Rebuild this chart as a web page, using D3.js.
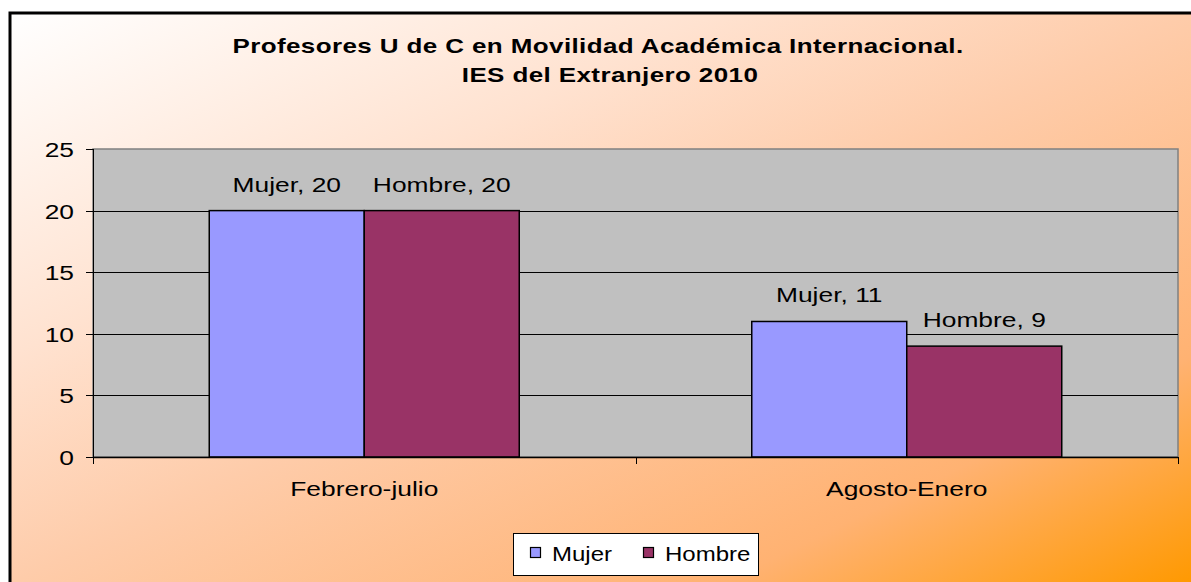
<!DOCTYPE html>
<html>
<head>
<meta charset="utf-8">
<script src="https://cdn.jsdelivr.net/npm/d3@7"></script>
<style>
  body { margin: 0; background: #fff; }
  svg { display: block; }
  text { font-family: "Liberation Sans", Arial, sans-serif; fill: #000; }
</style>
</head>
<body>
<svg id="chart" width="1191" height="582"></svg>
<script>
// chart data
var titleLines = ["Profesores U de C en Movilidad Académica Internacional.", "IES del Extranjero 2010"];
var categories = ["Febrero-julio", "Agosto-Enero"];
var series = ["Mujer", "Hombre"];
var mujer = [20, 11];
var hombre = [20, 9];
var yTicks = [0, 5, 10, 15, 20, 25];

var colors = { "Mujer": "#9999FF", "Hombre": "#993366" };
var SX = 1.32; // the original chart text is stretched sideways

var svg = d3.select("#chart"),
    width = +svg.attr("width"),
    height = +svg.attr("height");

// background gradient, white top-left to orange bottom-right
var grad = svg.append("defs").append("linearGradient")
    .attr("id", "bg")
    .attr("x1", 0).attr("y1", 0).attr("x2", 1).attr("y2", 1);
grad.append("stop").attr("offset", 0).attr("stop-color", "#FFFFFF");
grad.append("stop").attr("offset", 0.3).attr("stop-color", "#FFE2D0");
grad.append("stop").attr("offset", 0.5).attr("stop-color", "#FECCAA");
grad.append("stop").attr("offset", 0.8).attr("stop-color", "#FFB272");
grad.append("stop").attr("offset", 1).attr("stop-color", "#FF9900");

svg.append("rect")
    .attr("x", 10).attr("y", 13)
    .attr("width", width - 8).attr("height", height - 11)
    .attr("fill", "url(#bg)")
    .attr("stroke", "#000")
    .attr("stroke-width", 3);

function txt(x, y, s, size, anchor, bold, sx) {
  return svg.append("text")
      .attr("transform", "translate(" + x + "," + y + ") scale(" + (sx || SX) + ",1)")
      .attr("text-anchor", anchor || "middle")
      .style("font-size", size + "px")
      .style("font-weight", bold ? "bold" : "normal")
      .text(s);
}

// title
var titleX = [598, 610];
titleLines.forEach(function(t, i) {
  txt(titleX[i], 53 + i * 29, t, 20, "middle", true, 1.3).style("letter-spacing", "0.3px");
});

var plot = { left: 93, right: 1178, top: 149, bottom: 457 };

var x = d3.scaleBand()
    .domain(categories)
    .range([plot.left, plot.right]);

var xSub = d3.scaleBand()
    .domain(series)
    .range([0, x.bandwidth()])
    .paddingInner(0)
    .paddingOuter(0.75);

var y = d3.scaleLinear()
    .domain([0, 25])
    .range([plot.bottom, plot.top]);

// plot area
svg.append("rect")
    .attr("x", plot.left).attr("y", plot.top)
    .attr("width", plot.right - plot.left).attr("height", plot.bottom - plot.top)
    .attr("fill", "#C0C0C0")
    .attr("stroke", "#808080")
    .attr("stroke-width", 1.5);

// gridlines
svg.selectAll(".grid")
    .data(yTicks.filter(function(d) { return d > 0 && d < 25; }))
  .enter().append("line")
    .attr("x1", plot.left).attr("x2", plot.right)
    .attr("y1", function(d) { return Math.round(y(d)) + 0.5; })
    .attr("y2", function(d) { return Math.round(y(d)) + 0.5; })
    .attr("stroke", "#000")
    .attr("stroke-width", 1);

// bars
var rows = categories.map(function(c, i) {
  return { cat: c, vals: [{ s: "Mujer", v: mujer[i] }, { s: "Hombre", v: hombre[i] }] };
});

var groups = svg.selectAll(".grp")
    .data(rows)
  .enter().append("g")
    .attr("transform", function(d) { return "translate(" + x(d.cat) + ",0)"; });

groups.selectAll("rect")
    .data(function(d) { return d.vals; })
  .enter().append("rect")
    .attr("x", function(d) { return xSub(d.s); })
    .attr("y", function(d) { return y(d.v); })
    .attr("width", xSub.bandwidth())
    .attr("height", function(d) { return y(0) - y(d.v); })
    .attr("fill", function(d) { return colors[d.s]; })
    .attr("stroke", "#000")
    .attr("stroke-width", 1.5);

// data labels
rows.forEach(function(r) {
  r.vals.forEach(function(d) {
    txt(x(r.cat) + xSub(d.s) + xSub.bandwidth() / 2, y(d.v) - 19, d.s + ", " + d.v, 20);
  });
});

// y axis
var yAxis = svg.append("g");
yAxis.append("line")
    .attr("x1", plot.left + 0.5).attr("x2", plot.left + 0.5)
    .attr("y1", plot.top).attr("y2", plot.bottom)
    .attr("stroke", "#000");
yTicks.forEach(function(t) {
  var yy = Math.round(y(t)) + 0.5;
  yAxis.append("line")
      .attr("x1", plot.left - 7).attr("x2", plot.left)
      .attr("y1", yy).attr("y2", yy)
      .attr("stroke", "#000");
  txt(74, yy + 7, t, 20, "end");
});

// x axis
var xAxis = svg.append("g");
xAxis.append("line")
    .attr("x1", plot.left).attr("x2", plot.right)
    .attr("y1", plot.bottom + 0.5).attr("y2", plot.bottom + 0.5)
    .attr("stroke", "#000")
    .attr("stroke-width", 1.5);
[plot.left, x(categories[1]), plot.right].forEach(function(xx) {
  xAxis.append("line")
      .attr("x1", Math.round(xx) + 0.5).attr("x2", Math.round(xx) + 0.5)
      .attr("y1", plot.bottom).attr("y2", plot.bottom + 7)
      .attr("stroke", "#000");
});
categories.forEach(function(c) {
  txt(x(c) + x.bandwidth() / 2, 496, c, 20);
});

// legend
var lg = { x: 513, y: 533, w: 245, h: 42 };
svg.append("rect")
    .attr("x", lg.x + 0.5).attr("y", lg.y + 0.5)
    .attr("width", lg.w).attr("height", lg.h)
    .attr("fill", "#fff")
    .attr("stroke", "#000");
var lgX = [530, 643];
series.forEach(function(s, i) {
  svg.append("rect")
      .attr("x", lgX[i] + 0.5).attr("y", 547.5)
      .attr("width", 10).attr("height", 10)
      .attr("fill", colors[s])
      .attr("stroke", "#000")
      .attr("stroke-width", 1.2);
  txt(lgX[i] + 22, 561, s, 20, "start", false, 1.2);
});
</script>
</body>
</html>
